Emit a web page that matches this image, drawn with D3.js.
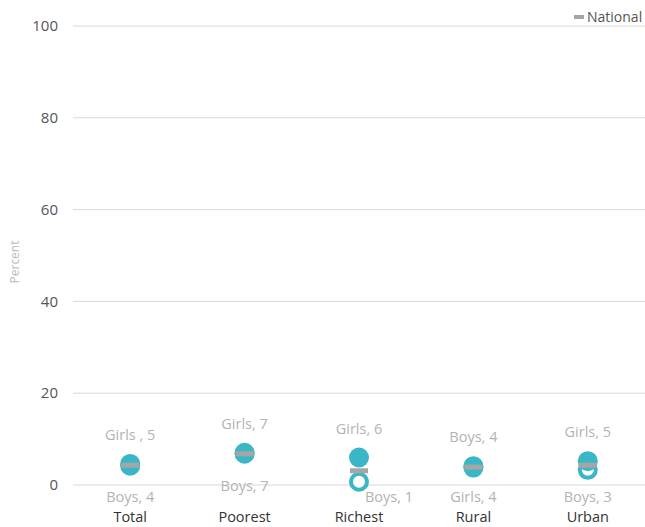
<!DOCTYPE html>
<html><head><meta charset="utf-8">
<script src="https://cdn.jsdelivr.net/npm/d3@7"></script>
<style>body{margin:0;background:#fff;font-family:"Open Sans","Liberation Sans",Arial,sans-serif;}</style>
</head><body><svg id="c" width="645" height="527"></svg>
<script>
const categories = ["Total","Poorest","Richest","Rural","Urban"];
const girls    = [4.6, 7.0, 6.0, 3.8, 5.2];
const boys     = [4.2, 6.8, 0.7, 4.1, 3.3];
const national = [4.3, 6.8, 3.1, 3.9, 4.3];
const girlsLabels = ["Girls , 5","Girls, 7","Girls, 6","Girls, 4","Girls, 5"];
const boysLabels  = ["Boys, 4","Boys, 7","Boys, 1","Boys, 4","Boys, 3"];
const yTicks = [0,20,40,60,80,100];

const svg = d3.select("#c").style("font-family",'"Open Sans","Liberation Sans",Arial,sans-serif');
const m = {l:73, r:645, t:26, b:485};
const x = d3.scaleBand().domain(categories).range([m.l, m.r]);
const y = d3.scaleLinear().domain([0,100]).range([m.b, m.t]);
const teal = "#3ab7c6", grey = "#a6a6a6", lab = "#b3b3b3";

svg.append("g").selectAll("line").data(yTicks).join("line")
  .attr("x1", m.l).attr("x2", m.r).attr("y1", d=>y(d)).attr("y2", d=>y(d))
  .attr("stroke", "#d9d9d9").attr("stroke-width", 1);
svg.append("g").selectAll("text").data(yTicks).join("text")
  .attr("x", 58).attr("y", d=>y(d)).attr("dy","0.35em").attr("text-anchor","end")
  .attr("font-size", 15).attr("fill", "#555").text(d=>d);
svg.append("text").attr("transform","translate(19,262) rotate(-90)")
  .attr("text-anchor","middle").attr("font-size",12).attr("fill","#bbb").text("Percent");

svg.append("g").selectAll("text").data(categories).join("text")
  .attr("x", d=>x(d)+x.bandwidth()/2).attr("y", 522).attr("text-anchor","middle")
  .attr("font-size", 14.5).attr("fill", "#333").text(d=>d);

const g = svg.append("g");
categories.forEach((c,i)=>{
  const cx = x(c)+x.bandwidth()/2;
  g.append("circle").attr("cx",cx).attr("cy",y(boys[i])).attr("r",8)
    .attr("fill","#fff").attr("stroke",teal).attr("stroke-width",4);
  g.append("circle").attr("cx",cx).attr("cy",y(girls[i])).attr("r",10).attr("fill",teal);
  g.append("rect").attr("x",cx-9).attr("y",y(national[i])-2.5).attr("width",18).attr("height",5).attr("fill",grey);
  const gHigh = girls[i] >= boys[i];
  const topLab = gHigh ? girlsLabels[i] : boysLabels[i];
  const botLab = gHigh ? boysLabels[i] : girlsLabels[i];
  const yTop = y(Math.max(girls[i],boys[i])) - 29;
  const yLowPt = y(Math.min(girls[i],boys[i]));
  let yBot = Math.min(yLowPt + 32, 497), dx = 0;
  if (yLowPt + 32 - 497 > 10) dx = 30;
  g.append("text").attr("x",cx).attr("y",yTop).attr("dy","0.35em").attr("text-anchor","middle")
    .attr("font-size",14.5).attr("fill",lab).text(topLab);
  g.append("text").attr("x",cx+dx).attr("y",yBot).attr("dy","0.35em").attr("text-anchor","middle")
    .attr("font-size",14.5).attr("fill",lab).text(botLab);
});

svg.append("rect").attr("x",574).attr("y",15).attr("width",10).attr("height",4).attr("fill",grey);
svg.append("text").attr("x",587).attr("y",17).attr("dy","0.35em").attr("font-size",14).attr("fill","#555").text("National");
</script></body></html>
